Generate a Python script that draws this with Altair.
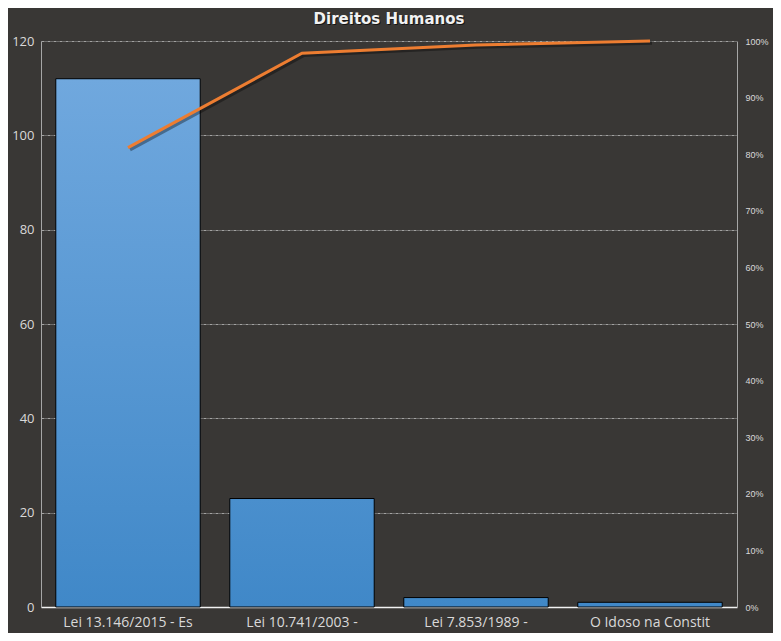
import altair as alt
import pandas as pd

categories = ["Lei 13.146/2015 - Es", "Lei 10.741/2003 -", "Lei 7.853/1989 -", "O Idoso na Constit"]
values = [112, 23, 2, 1]
left_ticks = [0, 20, 40, 60, 80, 100, 120]
right_ticks = [0, 0.1, 0.2, 0.3, 0.4, 0.5, 0.6, 0.7, 0.8, 0.9, 1.0]
title_text = "Direitos  Humanos"

total = sum(values)
cum = []
running = 0
for v in values:
    running += v
    cum.append(running / total)

df = pd.DataFrame({"cat": categories, "val": values, "cum": cum})

BG = "#393735"
TXT = "#d9d9d9"
Y_MAX = 120
TOP = (0x73, 0xaa, 0xe0)
BOT = (0x40, 0x88, 0xc8)
PLOT_W = 696
PLOT_H = 566


def mix(t):
    return "#%02x%02x%02x" % tuple(int(round(b + (a - b) * t)) for a, b in zip(TOP, BOT))


xenc = alt.X(
    "cat:N",
    sort=categories,
    scale=alt.Scale(paddingInner=0.17, paddingOuter=0.085),
    axis=alt.Axis(
        title=None, labelAngle=0, labelColor=TXT, labelFont="Open Sans", labelFontSize=14,
        labelPadding=8, ticks=False, domainColor="#f2f2f2", domainWidth=1.5, labelLimit=200,
    ),
)

yscale = alt.Scale(domain=[0, Y_MAX], nice=False)
yaxis = alt.Axis(
    title=None, values=left_ticks, labelColor=TXT, labelFont="Open Sans", labelFontSize=13,
    labelPadding=7, ticks=False, domainColor="#a6a6a6", gridColor="#bfbfbf",
    gridDash=[3, 1, 1, 1], gridWidth=0.8, grid=True,
)

bar_layers = []
for c, v in zip(categories, values):
    t = v / Y_MAX
    grad = alt.Gradient(
        gradient="linear",
        x1=0, y1=0, x2=0, y2=1,
        stops=[alt.GradientStop(color=mix(t), offset=0), alt.GradientStop(color=mix(0), offset=1)],
    )
    layer = (
        alt.Chart(df)
        .transform_filter(alt.datum.cat == c)
        .mark_bar(fill=grad, stroke="#000000", strokeWidth=1)
        .encode(
            x=xenc,
            y=alt.Y("val:Q", scale=yscale, axis=yaxis),
        )
    )
    bar_layers.append(layer)

bars = alt.layer(*bar_layers)

pscale = alt.Scale(domain=[0, 1], nice=False)
paxis = alt.Axis(
    orient="right", title=None, values=right_ticks, format=".0%", grid=False,
    labelColor=TXT, labelFont="Liberation Sans", labelFontSize=9, labelPadding=8,
    ticks=False, domainColor="#a6a6a6",
)
shadow = alt.Chart(df).mark_line(
    color="#000000", opacity=0.35, strokeWidth=3.5, xOffset=2, yOffset=2
).encode(x=xenc, y=alt.Y("cum:Q", scale=pscale, axis=paxis))

line = alt.Chart(df).mark_line(color="#ed7d31", strokeWidth=3).encode(
    x=xenc,
    y=alt.Y("cum:Q", scale=pscale, axis=paxis),
)

lines = alt.layer(shadow, line)

title_df = pd.DataFrame({"t": [title_text]})
title_shadow = alt.Chart(title_df).mark_text(
    font="DejaVu Sans", fontSize=15, fontWeight="bold", color="#000000", opacity=0.6,
    align="center", baseline="alphabetic", dx=1, dy=1,
).encode(text="t:N", x=alt.value(PLOT_W / 2), y=alt.value(-17))
title_main = alt.Chart(title_df).mark_text(
    font="DejaVu Sans", fontSize=15, fontWeight="bold", color="#f2f2f2",
    align="center", baseline="alphabetic",
).encode(text="t:N", x=alt.value(PLOT_W / 2), y=alt.value(-17))

chart = (
    alt.layer(bars, lines, title_shadow, title_main)
    .resolve_scale(y="independent")
    .properties(
        width=PLOT_W,
        height=PLOT_H,
        autosize=alt.AutoSizeParams(type="none"),
        padding={"left": 33, "top": 33, "right": 36, "bottom": 26},
        background=BG,
    )
    .configure_view(stroke=None)
)

chart.save("out.html", embed_options={"renderer": "svg", "actions": False})
